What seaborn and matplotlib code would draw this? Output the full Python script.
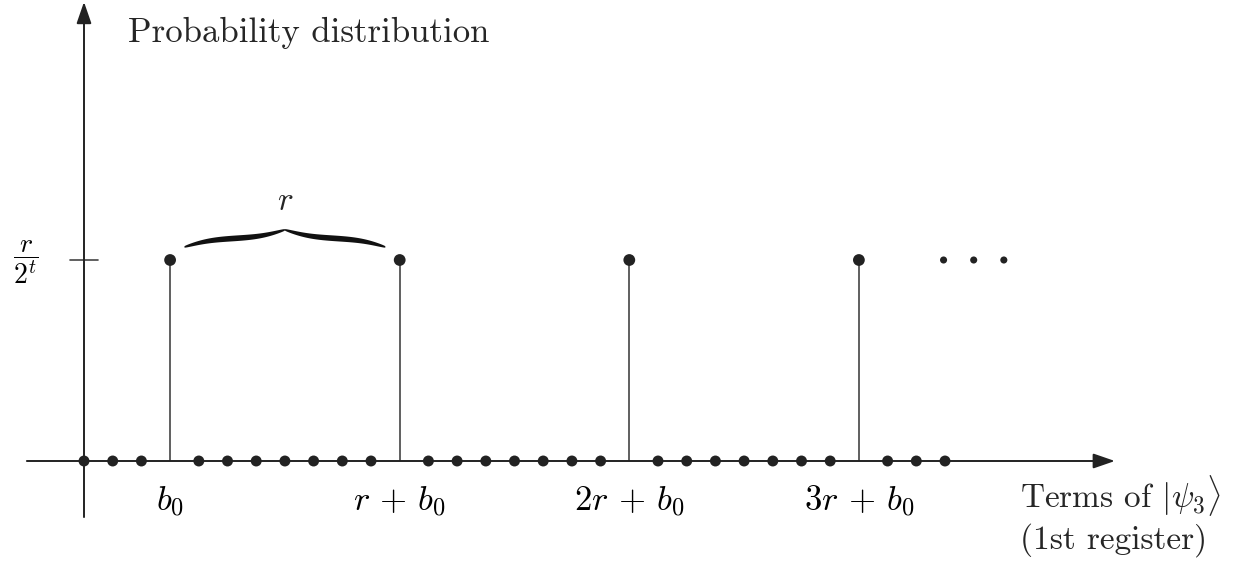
import numpy as np
import pandas as pd
import matplotlib
matplotlib.use("Agg")
import matplotlib.pyplot as plt
import seaborn as sns

# Register positions and the periodic peaks of the measured distribution
terms = list(range(31))
b0 = 3
period = 8
peak_terms = [3, 11, 19, 27]
peak_labels = ["$b_0$", r"$r\,+\,b_0$", r"$2r\,+\,b_0$", r"$3r\,+\,b_0$"]
peak_height = [1.0, 1.0, 1.0, 1.0]
ellipsis_x = [29.95, 31.0, 32.05]
y_tick_label = r"$\dfrac{r}{2^t}$"

sns.set_theme(style="white")
plt.rcParams["font.family"] = ["cmr10", "DejaVu Sans"]
plt.rcParams["mathtext.fontset"] = "cm"
plt.rcParams["axes.formatter.use_mathtext"] = True

W, H = 1237, 562
fig = plt.figure(figsize=(W / 100, H / 100), dpi=100)
ax = fig.add_axes([0, 0, 1, 1])
unit_x, x0_px = 28.7, 84
unit_y, y0_px = 201, 461
ax.set_xlim(-x0_px / unit_x, (W - x0_px) / unit_x)
ax.set_ylim(-(H - y0_px) / unit_y, y0_px / unit_y)
ax.axis("off")

ink = "#222222"
line_c = "#444444"

# Axes with arrowheads
arrow = dict(arrowstyle="-|>,head_length=1.1,head_width=0.38", color=ink,
             lw=1.4, shrinkA=0, shrinkB=0)
ax.annotate("", xy=(35.92, 0), xytext=(-1.99, 0), arrowprops=arrow)
ax.annotate("", xy=(0, 2.284), xytext=(0, -0.279), arrowprops=arrow)

# Tick for the peak height
ax.plot([-0.5, 0.5], [1, 1], color=line_c, lw=1.2)
ax.text(-2.02, 0.99, y_tick_label, fontsize=20, ha="center", va="center", color="black")

# Stems at the peaks
ax.vlines(peak_terms, 0, peak_height, color=line_c, lw=1.2)

# Zero-probability terms on the baseline
base = pd.DataFrame({"term": [t for t in terms if t not in peak_terms]})
base["p"] = 0.0
sns.scatterplot(data=base, x="term", y="p", ax=ax, s=62, color=ink,
                edgecolor="none", zorder=5)
peaks = pd.DataFrame({"term": peak_terms, "p": peak_height})
sns.scatterplot(data=peaks, x="term", y="p", ax=ax, s=72, color=ink,
                edgecolor="none", zorder=5)
sns.scatterplot(x=ellipsis_x, y=[1.0] * len(ellipsis_x), ax=ax, s=26,
                color=ink, edgecolor="none", zorder=5)

# Peak labels under the axis
for t, lab in zip(peak_terms, peak_labels):
    ax.text(t, -0.2, lab, fontsize=25, ha="center", va="center", color="black")

# Curly brace spanning one period
def brace(xa, xb, y_base, height, n=300):
    beta = 14.0
    half = np.linspace(0, 0.5, n)
    yh = (1 / (1 + np.exp(-beta * (half - half[0])))
          + 1 / (1 + np.exp(-beta * (half - half[-1]))))
    yh = (yh - yh[0]) / (yh[-1] - yh[0])
    xs = np.concatenate([half, 1 - half[::-1]])
    ys = np.concatenate([yh, yh[::-1]])
    thick = 0.2 + 0.8 * np.sin(np.pi * np.clip(xs * 2 % 1, 0, 1)) ** 0.5
    xs = xa + xs * (xb - xa)
    yc = y_base + ys * height
    t = 0.014 * thick
    ax.fill(np.concatenate([xs, xs[::-1]]),
            np.concatenate([yc + t, (yc - t)[::-1]]), color="#111111", lw=0)

brace(b0 + 0.5, b0 + period - 0.5, 1.065, 0.085)
ax.text(b0 + period / 2, 1.29, "$r$", fontsize=24, ha="center", va="center")

ax.text(128 / unit_x - x0_px / unit_x, (y0_px - 33) / unit_y,
        "Probability distribution", fontsize=25, ha="left", va="center")
ax.text((1020 - x0_px) / unit_x, (y0_px - 495) / unit_y,
        r"Terms of $|\psi_3\rangle$", fontsize=24, ha="left", va="center")
ax.text((1020 - x0_px) / unit_x, (y0_px - 540) / unit_y,
        "(1st register)", fontsize=24, ha="left", va="center")

fig.savefig("out.png", dpi=100)
